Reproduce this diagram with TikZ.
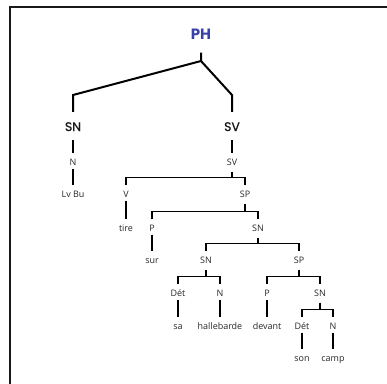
\documentclass[tikz,border=0pt]{standalone}
\usepackage{fontspec}
\setmainfont{Open Sans}
\newfontfamily\popfont{Poppins}
\newfontfamily\popsb{Poppins}[FakeBold=1.0]
\definecolor{phblue}{RGB}{58,66,170}
\definecolor{txtgray}{RGB}{40,40,40}
\begin{document}
\begin{tikzpicture}[x=1bp,y=-1bp,
  lab/.style={font=\fontsize{9}{10}\selectfont, text=txtgray, text height=9bp, text depth=1bp, inner xsep=0pt, inner ysep=2.5bp},
  biglab/.style={font=\popsb\fontsize{12.5}{13}\selectfont, text=black!90, text height=10bp, text depth=0pt, inner xsep=0pt, inner ysep=9bp},
  rootlab/.style={font=\popfont\bfseries\fontsize{15}{16}\selectfont, text=phblue, text height=11bp, text depth=0pt, inner xsep=0pt, inner ysep=13.5bp},
  br/.style={draw=black, line width=1.2bp},
  topbr/.style={draw=black, line width=2bp}]
\useasboundingbox (0,0) rectangle (387,384);
\fill[white] (0,0) rectangle (387,384);
% frame (cropped)
\draw[line width=2.2bp, black!90] (390,7) -- (10,7) -- (10,390);
% nodes
\node[rootlab] (PH) at (201,33.5) {PH};
\node[biglab] (SN1) at (73,126) {SN};
\node[biglab] (SV1) at (232,126) {SV};
\node[lab] (N1) at (73,161) {N};
\node[lab] (LvBu) at (73,193) {Lv Bu};
\node[lab] (SV2) at (232,161) {SV};
\node[lab] (V) at (126,193) {V};
\node[lab] (SP1) at (245,193) {SP};
\node[lab] (tire) at (126,227) {tire};
\node[lab] (P1) at (152,227) {P};
\node[lab] (SN2) at (258,227) {SN};
\node[lab] (sur) at (152,259) {sur};
\node[lab] (SN3) at (206,259) {SN};
\node[lab] (SP2) at (299,259) {SP};
\node[lab] (Det1) at (178,292) {Dét};
\node[lab] (N2) at (220,292) {N};
\node[lab] (P2) at (267,292) {P};
\node[lab] (SN4) at (320,292) {SN};
\node[lab] (sa) at (178,325) {sa};
\node[lab] (hal) at (220,325) {hallebarde};
\node[lab] (devant) at (267,325) {devant};
\node[lab] (Det2) at (302,325) {Dét};
\node[lab] (N3) at (333,325) {N};
\node[lab] (son) at (302,357) {son};
\node[lab] (camp) at (333,357) {camp};
% top connectors
\coordinate (fork) at (201,61);
\coordinate (kSN) at (73,95);
\coordinate (kSV) at (232,95);
\draw[topbr, line join=miter] (PH.south) -- (fork) -- (kSN) -- (SN1.north);
\draw[topbr, line join=miter] (fork) -- (kSV) -- (SV1.north);
% single lines
\draw[br] (SN1.south) -- (N1.north);
\draw[br] (N1.south) -- (LvBu.north);
\draw[br] (SV1.south) -- (SV2.north);
\draw[br] (V.south) -- (tire.north);
\draw[br] (P1.south) -- (sur.north);
\draw[br] (Det1.south) -- (sa.north);
\draw[br] (N2.south) -- (hal.north);
\draw[br] (P2.south) -- (devant.north);
\draw[br] (Det2.south) -- (son.north);
\draw[br] (N3.south) -- (camp.north);
% branching
\draw[br] (V.north) -- ++(0,-8) coordinate (bSV) -| (SP1.north);
\draw[br] ([yshift=-3bp]SV2.south) -- (SV2 |- bSV);
\draw[br] (P1.north) -- ++(0,-8) coordinate (bSP1) -| (SN2.north);
\draw[br] ([yshift=-3bp]SP1.south) -- (SP1 |- bSP1);
\draw[br] (SN3.north) -- ++(0,-8) coordinate (bSN2) -| (SP2.north);
\draw[br] ([yshift=-3bp]SN2.south) -- (SN2 |- bSN2);
\draw[br] (Det1.north) -- ++(0,-8) coordinate (bSN3) -| (N2.north);
\draw[br] ([yshift=-3bp]SN3.south) -- (SN3 |- bSN3);
\draw[br] (P2.north) -- ++(0,-8) coordinate (bSP2) -| (SN4.north);
\draw[br] ([yshift=-3bp]SP2.south) -- (SP2 |- bSP2);
\draw[br] (Det2.north) -- ++(0,-8) coordinate (bSN4) -| (N3.north);
\draw[br] ([yshift=-3bp]SN4.south) -- (SN4 |- bSN4);
\end{tikzpicture}
\end{document}
